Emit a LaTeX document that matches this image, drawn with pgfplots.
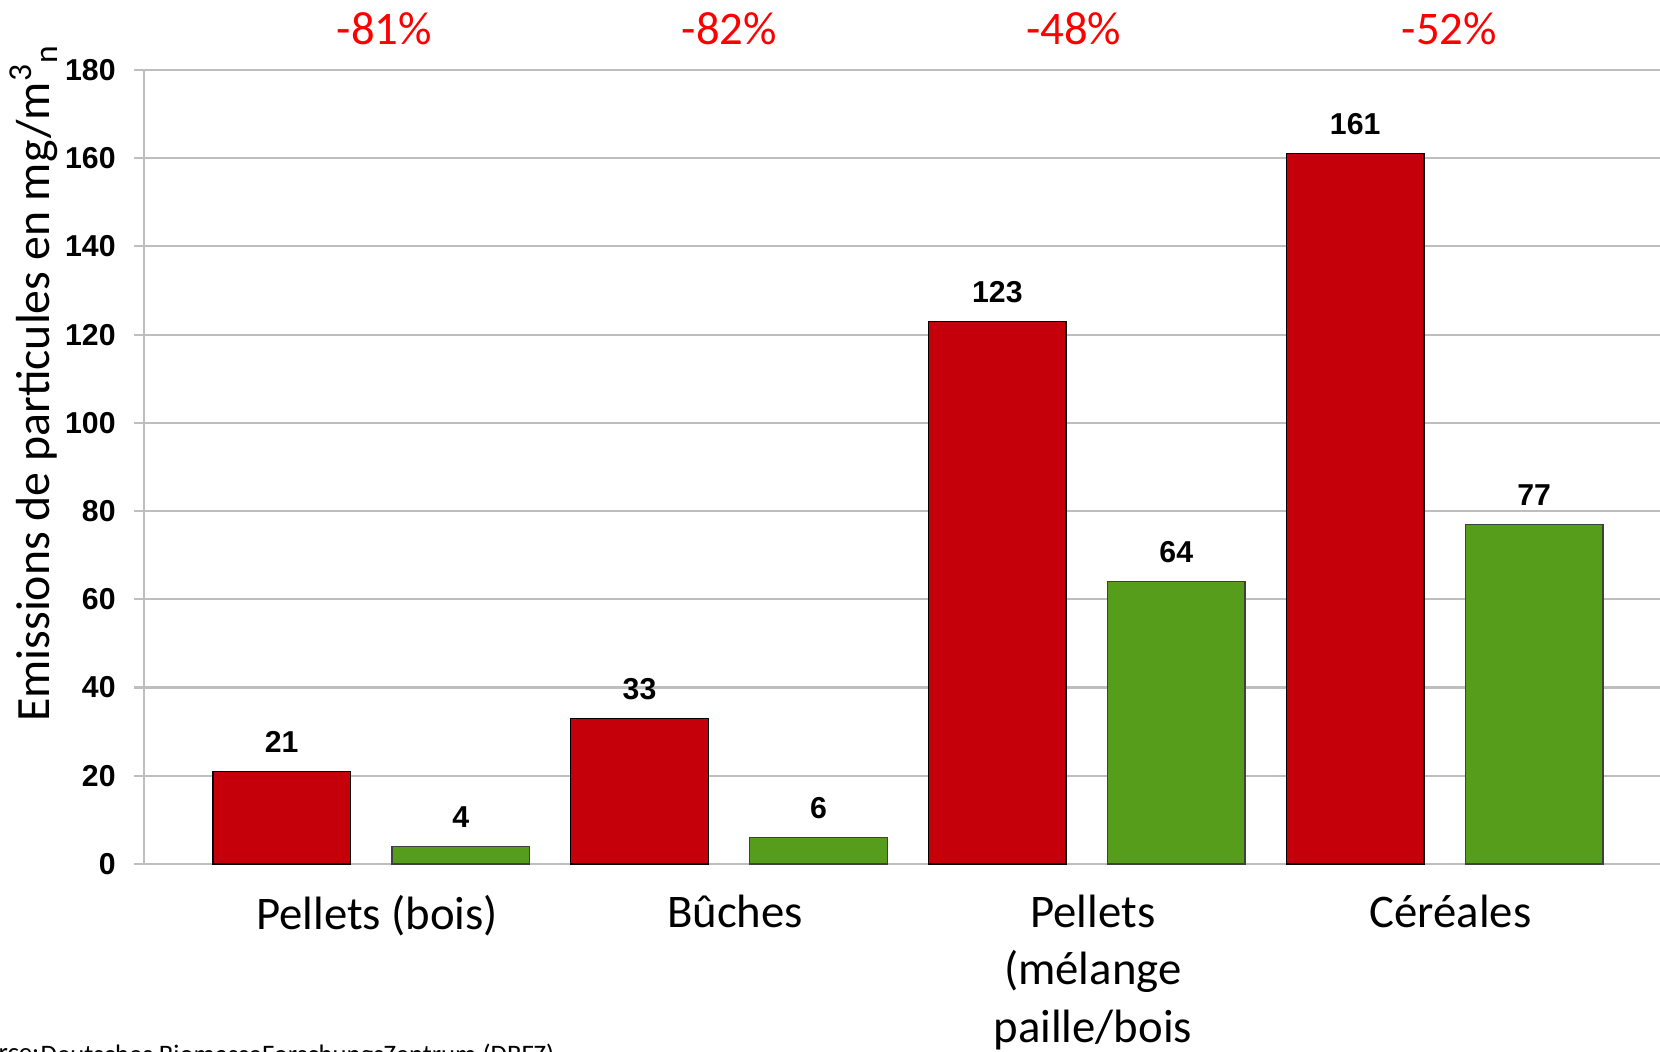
\documentclass[border=0pt]{standalone}
\usepackage{pgfplots}
\pgfplotsset{compat=1.18}
\usepackage{fontspec}
\setmainfont{Carlito}
\newfontfamily\arial{Liberation Sans}
\definecolor{barred}{RGB}{197,0,11}
\definecolor{bargreen}{RGB}{87,157,28}
\definecolor{gridgray}{RGB}{190,190,190}
\begin{document}
\begin{tikzpicture}
\useasboundingbox (0,0) rectangle (16.6,10.52);
\clip (0,0) rectangle (16.6,10.52);
\begin{axis}[
  at={(1.44cm,1.88cm)}, anchor=south west,
  scale only axis, width=15.16cm, height=7.94cm,
  xmin=-0.635, xmax=3.602, ymin=0, ymax=180,
  clip=false,
  /pgf/number format/assume math mode=true,
  axis lines*=left,
  axis line style={gridgray, line width=0.6pt},
  ymajorgrids, grid style={gridgray, line width=0.6pt},
  ytick={0,20,...,180},
  ytick style={gridgray, line width=0.6pt},
  tick align=outside, major tick length=0.1cm,
  yticklabel style={font=\arial\bfseries\fontsize{8.6}{10}\selectfont, xshift=-0.06cm},
  xtick={0,1,2,3},
  xtick style={draw=none},
  xticklabels={Pellets (bois), Bûches, {Pellets\\(mélange\\paille/bois\\)}, Céréales},
  xticklabel style={align=center, font=\fontsize{13.3}{16.3}\selectfont, anchor=north, inner sep=0pt, yshift=-0.205cm, xshift=0.06cm},
  ylabel={Emissions de particules en mg/m\textsuperscript{3}\textsubscript{n}},
  ylabel style={at={(rel axis cs:-0.0726,0.606)}, anchor=center, font=\fontsize{13.6}{16}\selectfont},
  nodes near coords,
  nodes near coords style={font=\arial\bfseries\fontsize{8.6}{10}\selectfont, anchor=south, inner sep=0pt, yshift=0.18cm, black},
]
\addplot[ybar, bar width=1.376cm, bar shift=0pt, fill=barred, draw=black, line width=0.4pt]
  coordinates {(-0.25,21) (0.75,33) (1.75,123) (2.75,161)};
\addplot[ybar, bar width=1.376cm, bar shift=0pt, fill=bargreen, draw=black!75, line width=0.4pt]
  coordinates {(0.25,4) (1.25,6) (2.25,64) (3.25,77)};
\node[red, font=\fontsize{13.3}{16}\selectfont, anchor=center, yshift=0.414cm] at (axis cs:0.037,180) {-81\%};
\node[red, font=\fontsize{13.3}{16}\selectfont, anchor=center, yshift=0.414cm] at (axis cs:1.0015,180) {-82\%};
\node[red, font=\fontsize{13.3}{16}\selectfont, anchor=center, yshift=0.414cm] at (axis cs:1.963,180) {-48\%};
\node[red, font=\fontsize{13.3}{16}\selectfont, anchor=center, yshift=0.414cm] at (axis cs:3.013,180) {-52\%};
\end{axis}
\node[anchor=north west, inner sep=0pt, font=\fontsize{7.6}{9}\selectfont] at (0.40,0.09) {Deutsches BiomasseForschungsZentrum (DBFZ)};
\node[anchor=north east, inner sep=0pt, font=\fontsize{7.6}{9}\selectfont] at (0.40,0.09) {Source:\ };
\end{tikzpicture}
\end{document}
